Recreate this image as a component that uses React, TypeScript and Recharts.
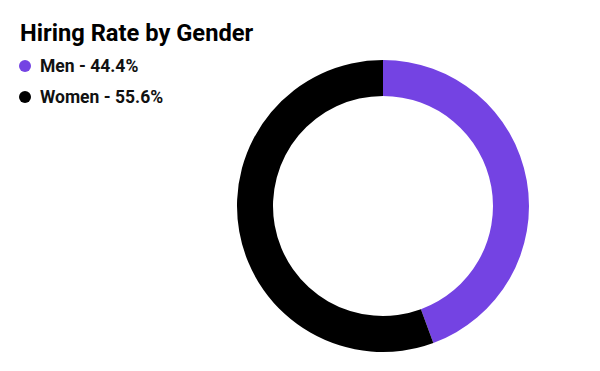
import React from 'react';
import { PieChart, Pie, Cell } from 'recharts';

const genders = ['Men', 'Women'];
const hiringRates = [44.4, 55.6];
const sliceColors = ['#7443e3', '#000000'];

const chartData = genders.map((name, i) => ({ name, value: hiringRates[i] }));

const font = 'Roboto, "Noto Sans", sans-serif';

function GenderLegend() {
  return (
    <div style={{ position: 'absolute', left: 19, top: 50, fontFamily: font }}>
      {chartData.map((d, i) => (
        <div
          key={d.name}
          style={{ display: 'flex', alignItems: 'center', height: 31, fontSize: 17.5, fontWeight: 700, color: '#111' }}
        >
          <span
            style={{
              display: 'inline-block',
              width: 12,
              height: 12,
              borderRadius: '50%',
              background: sliceColors[i],
              marginRight: 9,
            }}
          />
          {d.name} - {d.value.toFixed(1)}%
        </div>
      ))}
    </div>
  );
}

export default function App() {
  return (
    <div style={{ position: 'relative', width: 600, height: 371, margin: -8, background: '#fff' }}>
      <PieChart width={600} height={371} margin={{ top: 0, right: 0, bottom: 0, left: 0 }}>
        <Pie
          data={chartData}
          dataKey="value"
          nameKey="name"
          cx={383}
          cy={206}
          innerRadius={110}
          outerRadius={146}
          startAngle={90}
          endAngle={-270}
          stroke="none"
          isAnimationActive={false}
        >
          {chartData.map((d, i) => (
            <Cell key={d.name} fill={sliceColors[i]} />
          ))}
        </Pie>
      </PieChart>
      <div
        style={{
          position: 'absolute',
          left: 20,
          top: 18,
          fontFamily: font,
          fontWeight: 700,
          fontSize: 23.7,
          color: '#000',
          lineHeight: '30px',
        }}
      >
        Hiring Rate by Gender
      </div>
      <GenderLegend />
    </div>
  );
}
